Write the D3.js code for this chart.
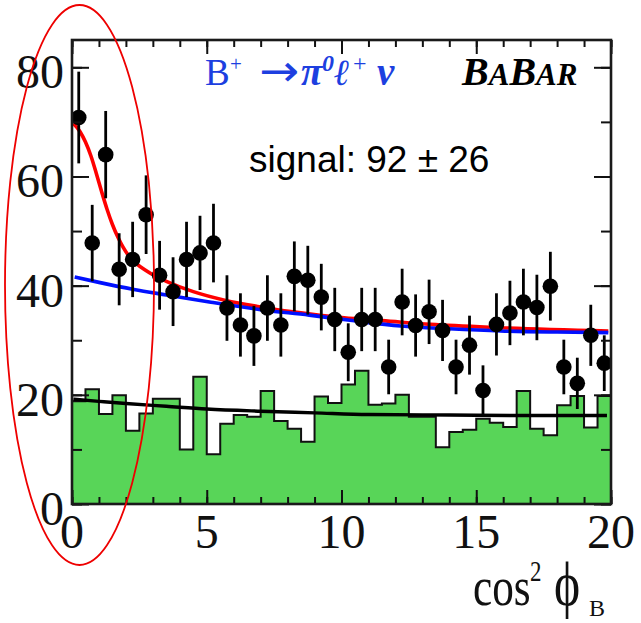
<!DOCTYPE html>
<html>
<head>
<meta charset="utf-8">
<script src="https://cdn.jsdelivr.net/npm/d3@7"></script>
<style>
  html, body { margin: 0; padding: 0; background: #fff; }
  svg { display: block; }
</style>
</head>
<body>
<svg id="chart" width="641" height="623"></svg>
<script>
// ---- data ----------------------------------------------------------
// histogram bin edges in cos^2(phi_B) (0.5-wide bins)
const binEdges = [0, 0.5, 1, 1.5, 2, 2.5, 3, 3.5, 4, 4.5, 5, 5.5, 6, 6.5, 7, 7.5,
  8, 8.5, 9, 9.5, 10, 10.5, 11, 11.5, 12, 12.5, 13, 13.5, 14, 14.5, 15, 15.5,
  16, 16.5, 17, 17.5, 18, 18.5, 19, 19.5, 20];

// on-resonance data, events per bin
const dataCounts = [70.8, 47.8, 64.0, 43.0, 44.8, 53.0, 41.9, 38.9, 44.8, 46.0,
  47.8, 35.9, 32.8, 30.8, 35.9, 32.8, 41.7, 41.0, 37.9, 33.8,
  27.8, 33.8, 33.8, 25.1, 37.0, 32.7, 35.2, 31.8, 25.1, 29.1,
  20.8, 32.9, 35.0, 37.0, 36.0, 39.9, 25.1, 22.1, 30.9, 25.8];
const dataErrors = [8.4, 7.0, 8.0, 6.6, 6.9, 7.2, 6.3, 6.3, 6.9, 6.8,
  7.2, 6.0, 5.8, 5.5, 6.0, 5.8, 6.4, 6.3, 6.1, 5.8,
  5.3, 5.8, 5.8, 5.0, 6.1, 5.7, 5.9, 5.6, 5.0, 5.4,
  4.6, 5.7, 5.9, 6.1, 6.0, 6.3, 5.0, 4.7, 5.6, 5.1];

// background (sideband) histogram, events per bin
const sidebandHist = [18.8, 21.0, 16.5, 19.9, 13.4, 16.6, 19.3, 19.3, 10.0, 23.3,
  9.1, 14.7, 16.3, 16.0, 20.7, 15.2, 13.8, 11.4, 19.7, 18.5,
  21.9, 24.4, 18.2, 18.4, 20.0, 16.0, 16.0, 10.4, 13.2, 13.6,
  15.6, 14.9, 14.1, 20.7, 13.8, 12.6, 18.1, 19.8, 14.0, 19.8];

// total fit (signal + background)
const totalFitX = [0.05, 0.3, 0.5, 0.7, 0.9, 1.1, 1.3, 1.5, 1.7, 1.9,
  2.1, 2.4, 2.7, 3.0, 3.5, 4.5, 5.7, 7.0, 8.2, 10.1, 11.5, 13.3, 15.9, 19.9];
const totalFitY = [69.7, 68.2, 66.3, 63.8, 60.6, 57.2, 54.0, 51.2, 48.9, 47.0,
  45.5, 44.0, 42.9, 42.0, 40.8, 38.9, 37.3, 36.1, 35.2, 34.1, 33.6, 32.9, 32.3, 31.7];

// background-only fit
const bkgFitX = [0.1, 1.0, 2.3, 3.5, 5.1, 7.0, 8.8, 10.4, 12.2, 14.0, 15.9, 18.0, 19.9];
const bkgFitY = [41.6, 40.6, 39.3, 38.3, 37.0, 35.6, 34.6, 33.6, 32.6, 32.1, 31.7, 31.5, 31.4];

// fit to the sideband histogram
const sidebandFitX = [0.05, 1, 2, 3.5, 5, 7, 9, 11, 14, 17, 19.85];
const sidebandFitY = [19.2, 18.8, 18.4, 17.9, 17.4, 17.0, 16.7, 16.4, 16.3, 16.2, 16.2];

// axis ticks
const xMajorTicks = [0, 5, 10, 15, 20];
const xMinorTicks = [0, 1, 2, 3, 4, 5, 6, 7, 8, 9, 10, 11, 12, 13, 14, 15, 16, 17, 18, 19, 20];
const yMajorTicks = [0, 20, 40, 60, 80];
const yMinorTicks = [0, 10, 20, 30, 40, 50, 60, 70, 80];

// ---- layout --------------------------------------------------------
const plot = { left: 72, right: 611, top: 40, bottom: 504 };
const serif = "'Liberation Serif', 'Times New Roman', 'DejaVu Serif', serif";
const sans = "'Liberation Sans', Arial, 'DejaVu Sans', sans-serif";

const svg = d3.select("#chart");
const x = d3.scaleLinear().domain([0, 20]).range([plot.left, plot.right]);
const y = d3.scaleLinear().domain([0, 85]).range([plot.bottom, plot.top]);

svg.append("defs").append("clipPath").attr("id", "plotClip")
  .append("rect")
  .attr("x", plot.left).attr("y", plot.top)
  .attr("width", plot.right - plot.left).attr("height", plot.bottom - plot.top);

const g = svg.append("g").attr("clip-path", "url(#plotClip)");

// sideband histogram as a stepped area
const histPts = sidebandHist.map((v, i) => [binEdges[i], v]);
histPts.push([binEdges[binEdges.length - 1], sidebandHist[sidebandHist.length - 1]]);

g.append("path")
  .datum(histPts)
  .attr("fill", "#58d558")
  .attr("d", d3.area().curve(d3.curveStepAfter)
    .x(d => x(d[0])).y0(y(0)).y1(d => y(d[1])));

g.append("path")
  .datum(histPts)
  .attr("fill", "none")
  .attr("stroke", "#111")
  .attr("stroke-width", 2)
  .attr("d", d3.line().curve(d3.curveStepAfter)
    .x(d => x(d[0])).y(d => y(d[1])));

// fit curves
const fitLine = d3.line().curve(d3.curveMonotoneX).x(d => x(d[0])).y(d => y(d[1]));

g.append("path")
  .datum(sidebandFitX.map((v, i) => [v, sidebandFitY[i]]))
  .attr("fill", "none").attr("stroke", "#000").attr("stroke-width", 3.4)
  .attr("d", fitLine);

g.append("path")
  .datum(totalFitX.map((v, i) => [v, totalFitY[i]]))
  .attr("fill", "none").attr("stroke", "#ff0000").attr("stroke-width", 3.6)
  .attr("d", fitLine);

g.append("path")
  .datum(bkgFitX.map((v, i) => [v, bkgFitY[i]]))
  .attr("fill", "none").attr("stroke", "#0010ff").attr("stroke-width", 3.6)
  .attr("d", fitLine);

// data points with error bars
const points = dataCounts.map((v, i) => ({
  c: (binEdges[i] + binEdges[i + 1]) / 2, v: v, e: dataErrors[i]
}));

g.append("g").selectAll("line")
  .data(points).join("line")
  .attr("x1", d => x(d.c)).attr("x2", d => x(d.c))
  .attr("y1", d => y(d.v - d.e)).attr("y2", d => y(d.v + d.e))
  .attr("stroke", "#000").attr("stroke-width", 2.8);

g.append("g").selectAll("circle")
  .data(points).join("circle")
  .attr("cx", d => x(d.c)).attr("cy", d => y(d.v))
  .attr("r", 7.8).attr("fill", "#000");

// ---- axes (ticks point inward) ------------------------------------
function tickAxis(axis, tr) {
  const a = svg.append("g").attr("transform", tr).call(axis);
  a.select(".domain").remove();
  a.selectAll(".tick line").attr("stroke", "#111").attr("stroke-width", 2);
  a.selectAll("text").remove();
}
tickAxis(d3.axisBottom(x).tickValues(xMinorTicks).tickSize(-7), `translate(0,${plot.bottom})`);
tickAxis(d3.axisBottom(x).tickValues(xMajorTicks).tickSize(-14), `translate(0,${plot.bottom})`);
tickAxis(d3.axisTop(x).tickValues(xMinorTicks).tickSize(-7), `translate(0,${plot.top})`);
tickAxis(d3.axisTop(x).tickValues(xMajorTicks).tickSize(-14), `translate(0,${plot.top})`);
tickAxis(d3.axisLeft(y).tickValues(yMinorTicks).tickSize(-10), `translate(${plot.left},0)`);
tickAxis(d3.axisLeft(y).tickValues(yMajorTicks).tickSize(-17), `translate(${plot.left},0)`);
tickAxis(d3.axisRight(y).tickValues(yMinorTicks).tickSize(-10), `translate(${plot.right},0)`);
tickAxis(d3.axisRight(y).tickValues(yMajorTicks).tickSize(-17), `translate(${plot.right},0)`);

// frame
svg.append("rect")
  .attr("x", plot.left).attr("y", plot.top)
  .attr("width", plot.right - plot.left).attr("height", plot.bottom - plot.top)
  .attr("fill", "none").attr("stroke", "#1a1a1a").attr("stroke-width", 2.6);

// tick labels
svg.append("g").selectAll("text")
  .data(xMajorTicks).join("text")
  .attr("x", d => x(d)).attr("y", 548)
  .attr("text-anchor", "middle")
  .attr("font-family", serif).attr("font-size", 48).attr("fill", "#111")
  .text(d => d);

svg.append("g").selectAll("text")
  .data(yMajorTicks).join("text")
  .attr("x", 64).attr("y", d => y(d) + 21)
  .attr("text-anchor", "end")
  .attr("font-family", serif).attr("font-size", 48).attr("fill", "#111")
  .text(d => d);

// x-axis title: cos^2 phi_B
const xt = svg.append("text")
  .attr("transform", "translate(473,605) scale(0.92,1.18)")
  .attr("font-family", serif).attr("fill", "#111").attr("font-size", 47);
xt.append("tspan").attr("x", 0).text("cos");
xt.append("tspan").attr("x", 62).attr("y", -20).attr("font-size", 25).text("2");
xt.append("tspan").attr("x", 88).attr("y", 0).attr("font-size", 54).text("ϕ");
svg.append("text")
  .attr("x", 589).attr("y", 616)
  .attr("font-family", serif).attr("fill", "#111").attr("font-size", 24)
  .text("B");

// decay-mode label
const blue = "#1d3fe0";
const title = svg.append("g").attr("fill", blue).attr("font-family", serif);
title.append("text").attr("x", 205).attr("y", 85).attr("font-size", 37).text("B");
title.append("text").attr("x", 230).attr("y", 71).attr("font-size", 21).text("+");
title.append("text").attr("x", 259).attr("y", 86).attr("font-size", 44)
  .attr("font-family", "'DejaVu Sans', sans-serif")
  .attr("textLength", 40).attr("lengthAdjust", "spacingAndGlyphs").text("→");
title.append("text").attr("x", 301).attr("y", 85).attr("font-size", 39)
  .attr("font-weight", "bold").attr("font-style", "italic").text("π");
title.append("text").attr("x", 322).attr("y", 71).attr("font-size", 24)
  .attr("font-weight", "bold").attr("font-style", "italic").text("0");
title.append("text").attr("x", 334).attr("y", 85).attr("font-size", 37)
  .attr("font-weight", "bold").attr("font-style", "italic").text("ℓ");
title.append("text").attr("x", 353).attr("y", 71).attr("font-size", 24).text("+");
title.append("text").attr("x", 377).attr("y", 85).attr("font-size", 39)
  .attr("font-weight", "bold").attr("font-style", "italic").text("ν");

// experiment label
const babar = svg.append("text")
  .attr("x", 462).attr("y", 85)
  .attr("font-family", serif).attr("font-weight", "bold").attr("font-style", "italic")
  .attr("fill", "#000");
babar.append("tspan").attr("font-size", 40).text("B");
babar.append("tspan").attr("font-size", 31).text("A");
babar.append("tspan").attr("font-size", 40).text("B");
babar.append("tspan").attr("font-size", 31).text("AR");

// signal yield
svg.append("text")
  .attr("x", 249).attr("y", 172)
  .attr("font-family", sans).attr("font-size", 37).attr("fill", "#000")
  .text("signal: 92 ± 26");

// highlight around the low cos^2 phi_B region
svg.append("ellipse")
  .attr("cx", 79.5).attr("cy", 285).attr("rx", 74.5).attr("ry", 280)
  .attr("fill", "none").attr("stroke", "#ee0000").attr("stroke-width", 1.8);
</script>
</body>
</html>
